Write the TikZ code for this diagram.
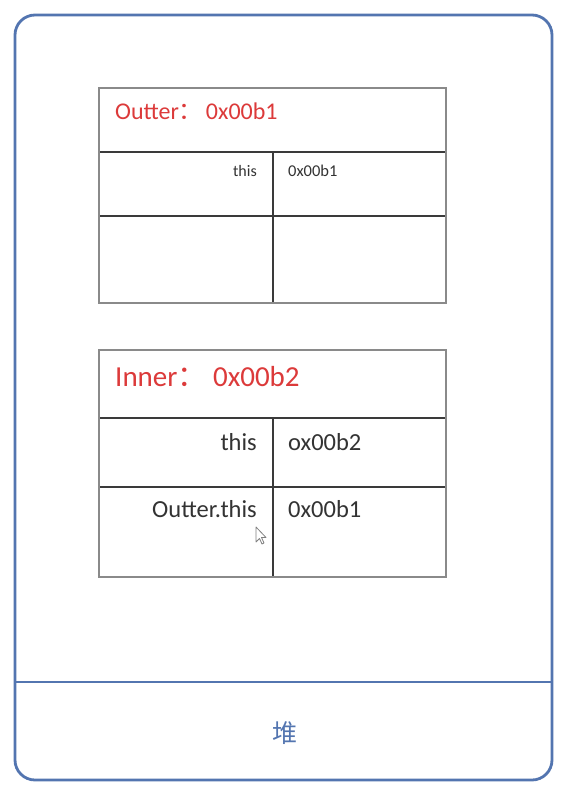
\documentclass[tikz,border=0pt]{standalone}
\usepackage{fontspec}
\setmainfont{Carlito}
\newfontfamily\cjk{Noto Sans CJK SC}
\definecolor{heapblue}{HTML}{5375B0}
\definecolor{titlered}{HTML}{DC3A3A}
\definecolor{cellline}{HTML}{3A3A3A}
\definecolor{boxline}{HTML}{8A8A8A}
\definecolor{txt}{HTML}{333333}
\tikzset{
  heap/.style={draw=heapblue, line width=2.8pt, rounded corners=20pt},
  tblbox/.style={draw=boxline, line width=1.3pt},
  cell/.style={draw=cellline, line width=1.8pt},
  ttl/.style={text=titlered, inner sep=0pt, anchor=base west},
  lbl/.style={text=txt, inner sep=0pt, anchor=base east},
  val/.style={text=txt, inner sep=0pt, anchor=base west},
}
\begin{document}
\begin{tikzpicture}[x=1pt,y=-1pt]
\useasboundingbox (0,0) rectangle (566,793);
\fill[white] (0,0) rectangle (566,793);
% heap frame
\draw[heap] (15,15) rectangle (552,780);
\draw[draw=heapblue, line width=2.8pt] (15,682) -- (552,682);
\node[text=heapblue, font=\cjk\fontsize{25}{28}\selectfont] (heaplbl) at (285,733) {堆};
% Outter table
\draw[cell] (99,152) -- (446,152);
\draw[cell] (99,216) -- (446,216);
\draw[cell] (273,152) -- (273,303);
\draw[tblbox] (99,88) rectangle (446,303);
\node[ttl, font=\fontsize{24}{28}\selectfont] (otitle) at (115,119) {Outter{\cjk ：}\hspace{3pt}0x00b1};
\node[lbl, font=\fontsize{16}{18}\selectfont] (othis) at (257,176) {this};
\node[val, font=\fontsize{16.5}{18}\selectfont] (oval) at (288,176) {0x00b1};
% Inner table
\draw[cell] (99,418) -- (446,418);
\draw[cell] (99,487) -- (446,487);
\draw[cell] (273,418) -- (273,577);
\draw[tblbox] (99,350) rectangle (446,577);
\node[ttl, font=\fontsize{29}{32}\selectfont] (ititle) at (115,386) {Inner{\cjk ：} 0x00b2};
\node[lbl, font=\fontsize{24.5}{28}\selectfont] (ithis) at (257,450) {this};
\node[val, font=\fontsize{24.5}{28}\selectfont] (ival) at (288,450) {ox00b2};
\node[lbl, font=\fontsize{24.5}{28}\selectfont] (iouter) at (257,517) {Outter.this};
\node[val, font=\fontsize{24.5}{28}\selectfont] (ioval) at (288,517) {0x00b1};
% mouse cursor
\draw[draw=gray, fill=white, line width=0.8pt, line join=round]
  (256,527) -- (256,542) -- (259.5,538.5) -- (262,544) -- (264,543) -- (261.5,537.5) -- (266,537.5) -- cycle;
\end{tikzpicture}
\end{document}
